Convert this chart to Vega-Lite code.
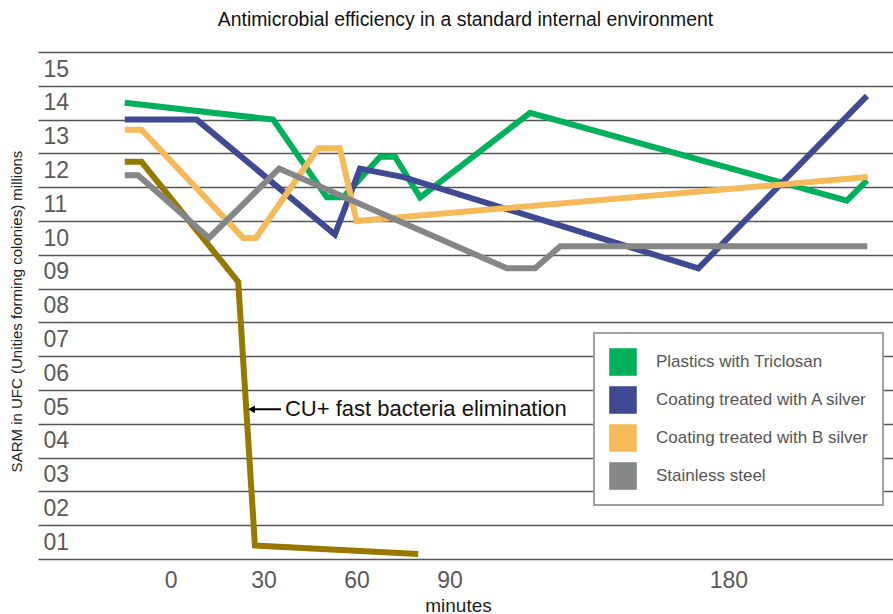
{
  "$schema": "https://vega.github.io/schema/vega-lite/v6.json",
  "width": 855,
  "height": 507,
  "autosize": {"type": "none"},
  "padding": {"left": 38, "top": 52, "right": 0, "bottom": 55},
  "background": "white",
  "title": {
    "text": "Antimicrobial efficiency in a standard internal environment",
    "fontSize": 19.4,
    "font": "Liberation Sans",
    "fontWeight": "normal",
    "color": "#111111",
    "anchor": "middle",
    "baseline": "alphabetic",
    "offset": 7,
    "frame": "group"
  },
  "config": {"view": {"stroke": null}, "font": "Liberation Sans"},
  "datasets": {
    "series": [
      {"series": "CU+", "minute": -14.8, "value": 12.25},
      {"series": "CU+", "minute": -9.4, "value": 12.25},
      {"series": "CU+", "minute": 21.8, "value": 8.7},
      {"series": "CU+", "minute": 27.2, "value": 0.9},
      {"series": "CU+", "minute": 79.9, "value": 0.65},
      {"series": "Plastics with Triclosan", "minute": -14.8, "value": 14.0},
      {"series": "Plastics with Triclosan", "minute": 33.1, "value": 13.5},
      {"series": "Plastics with Triclosan", "minute": 50.4, "value": 11.2},
      {"series": "Plastics with Triclosan", "minute": 55.7, "value": 11.2},
      {"series": "Plastics with Triclosan", "minute": 67.6, "value": 12.4},
      {"series": "Plastics with Triclosan", "minute": 72.4, "value": 12.4},
      {"series": "Plastics with Triclosan", "minute": 80.5, "value": 11.2},
      {"series": "Plastics with Triclosan", "minute": 116.0, "value": 13.7},
      {"series": "Plastics with Triclosan", "minute": 218.2, "value": 11.1},
      {"series": "Plastics with Triclosan", "minute": 224.7, "value": 11.7},
      {"series": "Coating treated with A silver", "minute": -14.8, "value": 13.5},
      {"series": "Coating treated with A silver", "minute": 8.4, "value": 13.5},
      {"series": "Coating treated with A silver", "minute": 53.0, "value": 10.1},
      {"series": "Coating treated with A silver", "minute": 61.1, "value": 12.05},
      {"series": "Coating treated with A silver", "minute": 75.1, "value": 11.8},
      {"series": "Coating treated with A silver", "minute": 170.3, "value": 9.1},
      {"series": "Coating treated with A silver", "minute": 224.7, "value": 14.2},
      {"series": "Coating treated with B silver", "minute": -14.8, "value": 13.2},
      {"series": "Coating treated with B silver", "minute": -9.4, "value": 13.2},
      {"series": "Coating treated with B silver", "minute": 23.4, "value": 10.0},
      {"series": "Coating treated with B silver", "minute": 27.5, "value": 10.0},
      {"series": "Coating treated with B silver", "minute": 47.6, "value": 12.65},
      {"series": "Coating treated with B silver", "minute": 54.6, "value": 12.65},
      {"series": "Coating treated with B silver", "minute": 60.0, "value": 10.5},
      {"series": "Coating treated with B silver", "minute": 224.9, "value": 11.8},
      {"series": "Stainless steel", "minute": -14.8, "value": 11.85},
      {"series": "Stainless steel", "minute": -10.5, "value": 11.85},
      {"series": "Stainless steel", "minute": 12.4, "value": 10.0},
      {"series": "Stainless steel", "minute": 35.0, "value": 12.05},
      {"series": "Stainless steel", "minute": 108.5, "value": 9.1},
      {"series": "Stainless steel", "minute": 117.6, "value": 9.1},
      {"series": "Stainless steel", "minute": 125.7, "value": 9.75},
      {"series": "Stainless steel", "minute": 224.8, "value": 9.75}
    ],
    "arrow": [
      {"head": 26.1, "start": 26.5, "end": 35.6, "value": 4.93}
    ],
    "notes": [
      {"label": "CU+ fast bacteria elimination", "minute": 36.9, "value": 4.93}
    ]
  },
  "layer": [
    {
      "data": {"name": "series"},
      "mark": {"type": "line", "strokeWidth": 6, "strokeCap": "butt", "strokeJoin": "miter"},
      "encoding": {
        "x": {
          "field": "minute",
          "type": "quantitative",
          "scale": {"domain": [-42.8, 233.1], "nice": false, "zero": false},
          "axis": {
            "title": "minutes",
            "values": [0, 30, 60, 90, 180],
            "tickCount": 20,
            "grid": false,
            "domain": false,
            "ticks": false,
            "tickSize": 0,
            "labelFlush": false,
            "labelOverlap": false,
            "labelFontSize": 23,
            "labelColor": "#595959",
            "labelBaseline": "alphabetic",
            "labelPadding": 28,
            "titleFontSize": 19,
            "titleFontWeight": "normal",
            "titleColor": "#222222",
            "titleX": 420,
            "titleY": 52,
            "titleBaseline": "alphabetic"
          }
        },
        "y": {
          "field": "value",
          "type": "quantitative",
          "scale": {"domain": [0.5, 15.5], "nice": false, "zero": false},
          "axis": {
            "title": "SARM in UFC (Unities forming colonies) millions",
            "values": [0.5, 1.5, 2.5, 3.5, 4.5, 5.5, 6.5, 7.5, 8.5, 9.5, 10.5, 11.5, 12.5, 13.5, 14.5, 15.5],
            "tickCount": 30,
            "grid": true,
            "gridColor": "#555555",
            "gridWidth": 1.5,
            "domain": false,
            "ticks": false,
            "tickSize": 0,
            "labelAlign": "left",
            "labelPadding": -5,
            "labelOffset": 17,
            "labelBaseline": "middle",
            "labelFontSize": 23,
            "labelColor": "#595959",
            "labelOverlap": false,
            "labelFlush": false,
            "labelExpr": "datum.value < 1 ? '' : format(floor(datum.value), '02d')",
            "titleFontSize": 15,
            "titleFontWeight": "normal",
            "titleColor": "#222222",
            "titleX": -17,
            "titleY": 259,
            "titleBaseline": "alphabetic"
          }
        },
        "color": {
          "field": "series",
          "type": "nominal",
          "scale": {
            "domain": ["Plastics with Triclosan", "Coating treated with A silver", "Coating treated with B silver", "Stainless steel", "CU+"],
            "range": ["#00B05A", "#404A93", "#F5BA5A", "#858688", "#977800"]
          },
          "legend": {
            "orient": "none",
            "legendX": 556,
            "legendY": 281,
            "title": null,
            "values": ["Plastics with Triclosan", "Coating treated with A silver", "Coating treated with B silver", "Stainless steel"],
            "symbolType": "square",
            "symbolSize": 760,
            "symbolStrokeWidth": 0,
            "symbolOpacity": 1,
            "labelFontSize": 17,
            "labelColor": "#555555",
            "labelOffset": 19,
            "labelLimit": 300,
            "rowPadding": 10,
            "padding": 15,
            "strokeColor": "#A0A0A0",
            "fillColor": "white",
            "encode": {
              "symbols": {"update": {"fill": {"scale": "color", "field": "value"}, "strokeWidth": {"value": 0}}},
              "legend": {"update": {"strokeWidth": {"value": 2}}}
            }
          }
        }
      }
    },
    {
      "data": {"name": "arrow"},
      "mark": {"type": "rule", "strokeWidth": 2, "color": "#000000"},
      "encoding": {
        "x": {"field": "start", "type": "quantitative", "axis": {"title": "minutes"}},
        "x2": {"field": "end"},
        "y": {"field": "value", "type": "quantitative", "axis": {"title": "SARM in UFC (Unities forming colonies) millions"}}
      }
    },
    {
      "data": {"name": "arrow"},
      "mark": {"type": "point", "shape": "triangle-left", "filled": true, "color": "#000000", "size": 60, "opacity": 1},
      "encoding": {
        "x": {"field": "head", "type": "quantitative", "axis": {"title": "minutes"}},
        "y": {"field": "value", "type": "quantitative", "axis": {"title": "SARM in UFC (Unities forming colonies) millions"}}
      }
    },
    {
      "data": {"name": "notes"},
      "mark": {"type": "text", "align": "left", "baseline": "middle", "fontSize": 22, "color": "#111111", "font": "Liberation Sans"},
      "encoding": {
        "x": {"field": "minute", "type": "quantitative", "axis": {"title": "minutes"}},
        "y": {"field": "value", "type": "quantitative", "axis": {"title": "SARM in UFC (Unities forming colonies) millions"}},
        "text": {"field": "label"}
      }
    }
  ]
}
